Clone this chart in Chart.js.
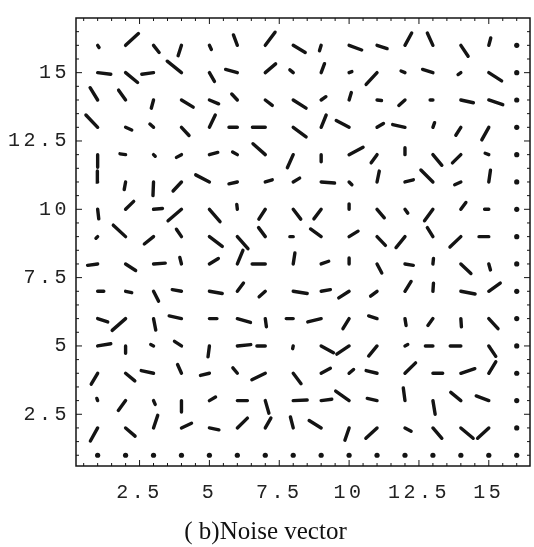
<!doctype html>
<html lang="en">
<head>
<meta charset="utf-8">
<title>Noise vector</title>
<script src="https://cdn.jsdelivr.net/npm/chart.js@4.4.1/dist/chart.umd.min.js"></script>
<style>
  html, body { margin: 0; padding: 0; background: #fff; }
  #wrap { width: 534px; height: 547px; }
</style>
</head>
<body>
<div id="wrap"><canvas id="field" width="534" height="547"></canvas></div>
<script>
// grid positions (rows listed top to bottom)
const gridCols = [1, 2, 3, 4, 5, 6, 7, 8, 9, 10, 11, 12, 13, 14, 15, 16];
const gridRows = [16, 15, 14, 13, 12, 11, 10, 9, 8, 7, 6, 5, 4, 3, 2, 1];
const xTicks = [2.5, 5, 7.5, 10, 12.5, 15];
const yTicks = [2.5, 5, 7.5, 10, 12.5, 15];

// x component of each vector, one row per gridRows entry
const vecX = [
  [0.05, 0.46, 0.2, -0.12, 0.07, -0.14, 0.35, 0.43, -0.06, 0.45, 0.36, 0.24, -0.2, 0.26, 0.07, 0],
  [0.47, 0.43, -0.42, -0.51, 0.18, -0.42, 0.37, -0.12, 0.12, 0.1, -0.39, -0.14, -0.37, -0.1, 0.46, 0],
  [-0.27, -0.25, -0.08, 0.42, 0.33, -0.2, 0.25, 0.46, 0.17, 0.08, 0.16, -0.22, -0.1, 0.45, 0.5, 0],
  [-0.42, 0.22, -0.13, 0.27, 0.21, -0.3, -0.46, 0.46, 0.18, -0.46, 0.23, -0.44, 0.06, -0.18, -0.25, 0],
  [0, -0.2, 0.06, -0.18, 0.3, -0.17, -0.44, -0.21, 0, 0.5, -0.21, 0, 0.32, -0.3, -0.13, 0],
  [-0.01, -0.05, -0.02, -0.3, -0.49, -0.3, 0.25, 0.23, 0.48, 0.1, 0.08, 0.3, -0.43, -0.22, 0.06, 0],
  [0.04, 0.29, 0.32, -0.48, 0.38, -0.02, -0.23, 0.27, -0.26, 0, 0.26, 0.1, -0.3, 0.18, -0.15, 0],
  [-0.06, -0.44, -0.33, -0.18, 0.46, 0.38, -0.24, -0.12, -0.38, 0.32, 0.3, -0.32, -0.2, -0.39, -0.35, 0],
  [-0.36, 0.36, 0.42, -0.06, 0.32, 0.2, -0.47, 0.06, 0.27, 0, 0.17, 0.3, 0.02, 0.36, 0.06, 0],
  [0.22, 0.22, 0.18, -0.33, 0.46, 0.22, -0.22, 0.5, 0.33, -0.37, -0.23, 0.22, 0.02, 0.51, 0.41, 0],
  [0.36, -0.48, 0.08, -0.44, 0.27, 0.47, 0.04, -0.25, -0.48, -0.22, -0.3, 0.04, -0.18, 0.02, 0.33, 0],
  [0.47, 0, -0.1, -0.25, -0.05, 0.48, -0.3, -0.02, 0.44, -0.44, -0.3, 0.1, -0.27, -0.38, 0.25, 0],
  [-0.23, 0.33, -0.44, -0.14, -0.32, -0.16, -0.48, 0.28, 0.33, 0.16, -0.39, 0.38, 0.35, 0.5, 0.25, 0],
  [-0.03, -0.26, 0.06, 0, 0.22, 0.36, 0.13, 0.5, 0.38, -0.48, -0.35, -0.06, 0.08, -0.36, -0.45, 0],
  [-0.26, 0.34, 0.15, 0.36, 0.34, 0.36, 0.2, -0.1, -0.43, -0.15, -0.4, 0.22, 0.32, 0.44, -0.4, 0],
  [0, 0, 0, 0, 0, 0, 0, 0, 0, 0, 0, 0, 0, 0, 0, 0]
];

// y component of each vector
const vecY = [
  [-0.08, 0.43, -0.26, -0.38, -0.15, 0.38, 0.48, -0.26, -0.2, -0.17, -0.12, 0.45, 0.45, -0.4, 0.27, 0],
  [-0.06, -0.36, -0.06, 0.42, -0.32, 0.12, 0.32, 0.1, 0.33, 0.04, -0.43, 0.06, 0.12, -0.07, -0.3, 0],
  [0.45, 0.36, -0.3, -0.26, -0.14, 0.22, -0.2, -0.3, 0.12, 0.27, -0.02, -0.2, 0, -0.1, -0.17, 0],
  [0.45, -0.1, 0.12, -0.3, 0.45, 0, 0, -0.35, 0.45, 0.25, 0.14, 0.1, 0.17, -0.29, -0.46, 0],
  [-0.46, 0.03, -0.06, -0.1, 0.08, 0.1, 0.4, -0.48, -0.26, 0.27, -0.3, 0.25, -0.39, -0.3, 0.05, 0],
  [0.4, -0.28, -0.5, -0.33, 0.26, -0.07, 0.08, 0.14, -0.04, -0.1, 0.4, 0.08, 0.44, -0.1, 0.43, 0],
  [-0.35, 0.29, 0.03, -0.42, -0.45, 0.18, -0.36, -0.36, -0.35, 0.2, -0.31, -0.14, -0.42, 0.25, 0, 0],
  [-0.06, 0.42, -0.27, 0.27, -0.36, -0.44, 0.33, 0, 0.28, 0.2, -0.32, -0.4, 0.33, -0.38, 0, 0],
  [-0.05, -0.24, 0.03, 0.24, 0.2, 0.5, 0, 0.4, 0.1, 0.22, -0.33, -0.05, 0.2, -0.35, -0.22, 0],
  [0, -0.05, -0.36, 0.06, -0.08, 0.3, -0.2, -0.08, 0.06, -0.24, -0.18, 0.36, 0.3, -0.1, 0.3, 0],
  [-0.12, -0.43, -0.42, 0.1, 0, -0.14, -0.3, 0, -0.12, -0.37, 0.1, -0.25, -0.25, -0.3, -0.37, 0],
  [0.08, -0.27, 0.05, 0.17, -0.4, 0.05, 0, -0.1, -0.25, -0.3, -0.37, 0.05, 0, 0, -0.38, 0],
  [-0.4, -0.28, 0.1, 0.32, -0.08, 0.2, -0.24, -0.38, 0.18, 0.14, 0.1, 0.38, 0, 0.17, 0.42, 0],
  [0.08, -0.36, -0.14, -0.42, 0.13, 0, -0.46, 0.02, 0.05, 0.35, 0.08, 0.46, -0.5, 0.3, 0.17, 0],
  [-0.48, -0.3, 0.46, 0.17, -0.07, 0.36, 0.36, 0.4, 0.27, -0.45, -0.38, -0.12, -0.38, -0.38, -0.38, 0],
  [0, 0, 0, 0, 0, 0, 0, 0, 0, 0, 0, 0, 0, 0, 0, 0]
];

// build segments (tail at grid point) and dots for zero vectors
const segs = [];
const dots = [];
gridRows.forEach((y, r) => {
  gridCols.forEach((x, c) => {
    const dx = vecX[r][c], dy = vecY[r][c];
    if (dx === 0 && dy === 0) { dots.push({x: x, y: y}); return; }
    segs.push({x: x, y: y}, {x: x + dx, y: y + dy}, {x: x, y: null});
  });
});

const ink = '#141414';

// frame with inward ticks on all four sides, like the original plot
const framePlugin = {
  id: 'frame',
  afterDatasetsDraw(chart) {
    const ctx = chart.ctx;
    const a = chart.chartArea;
    const xs = chart.scales.x, ys = chart.scales.y;
    ctx.save();
    ctx.strokeStyle = ink;
    ctx.lineWidth = 1.5;
    ctx.strokeRect(a.left, a.top, a.right - a.left, a.bottom - a.top);
    ctx.lineWidth = 1;
    ctx.beginPath();
    for (let v = 0.5; v <= 17; v += 0.5) {
      const len = (v % 2.5 === 0) ? 6 : 3;
      if (v > xs.min && v < xs.max) {
        const px = xs.getPixelForValue(v);
        ctx.moveTo(px, a.bottom); ctx.lineTo(px, a.bottom - len);
        ctx.moveTo(px, a.top); ctx.lineTo(px, a.top + len);
      }
      if (v > ys.min && v < ys.max) {
        const py = ys.getPixelForValue(v);
        ctx.moveTo(a.left, py); ctx.lineTo(a.left + len, py);
        ctx.moveTo(a.right, py); ctx.lineTo(a.right - len, py);
      }
    }
    ctx.stroke();
    ctx.restore();
    // wide monospaced look for the tick numbers
    ctx.letterSpacing = '3.5px';
  },
  afterDraw(chart) {
    chart.ctx.letterSpacing = '0px';
  }
};

new Chart(document.getElementById('field'), {
  type: 'line',
  data: {
    datasets: [{
      data: segs,
      borderColor: ink,
      borderWidth: 3.4,
      borderCapStyle: 'round',
      pointRadius: 0,
      spanGaps: false,
      tension: 0
    }, {
      data: dots,
      showLine: false,
      pointRadius: 2.6,
      pointBorderWidth: 0,
      pointBackgroundColor: ink
    }]
  },
  options: {
    responsive: false,
    animation: false,
    layout: { padding: { left: 0, right: 3, top: 7, bottom: 0 } },
    plugins: {
      legend: { display: false },
      tooltip: { enabled: false },
      title: {
        display: true,
        position: 'bottom',
        text: '( b)Noise vector',
        color: '#111',
        font: { family: '"Liberation Serif", "Times New Roman", serif', size: 25, weight: 'normal' },
        padding: { top: 0, bottom: 0 }
      }
    },
    scales: {
      x: {
        type: 'linear',
        min: 0.225,
        max: 16.475,
        grid: { display: false, drawTicks: false },
        border: { display: false },
        afterFit(s) { s.height = 51; },
        afterBuildTicks(s) { s.ticks = xTicks.map(v => ({ value: v })); },
        ticks: {
          z: 1,
          padding: 15,
          color: '#222',
          maxRotation: 0,
          font: { family: '"Liberation Mono", monospace', size: 20 },
          callback: v => String(v)
        }
      },
      y: {
        type: 'linear',
        min: 0.607,
        max: 17.0,
        grid: { display: false, drawTicks: false },
        border: { display: false },
        afterFit(s) { s.width = 76; },
        afterBuildTicks(s) { s.ticks = yTicks.map(v => ({ value: v })); },
        ticks: {
          z: 1,
          padding: 6,
          color: '#222',
          font: { family: '"Liberation Mono", monospace', size: 20 },
          callback: v => String(v)
        }
      }
    }
  },
  plugins: [framePlugin]
});
</script>
</body>
</html>
